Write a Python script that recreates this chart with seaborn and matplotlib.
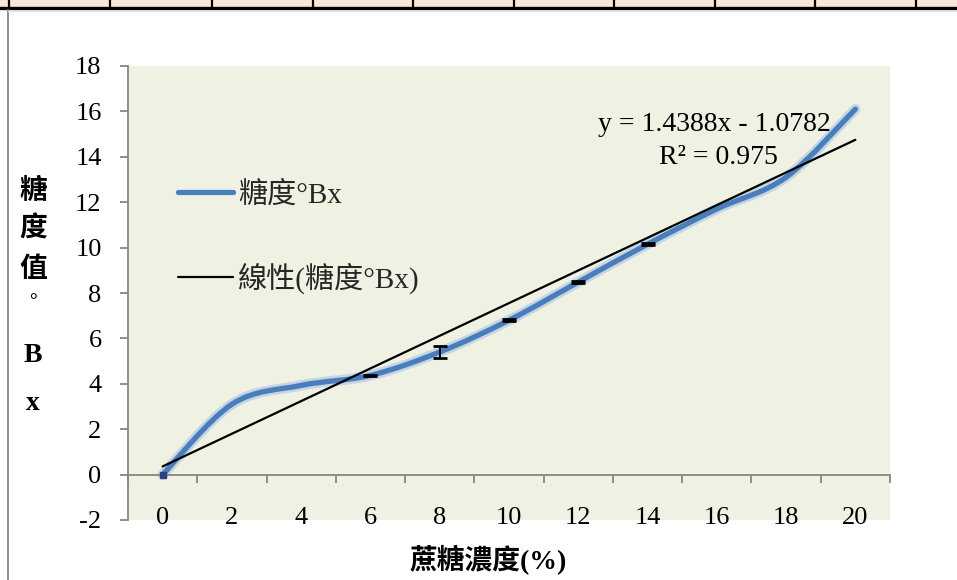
import numpy as np
import pandas as pd
import matplotlib
matplotlib.use("Agg")
import matplotlib.pyplot as plt
import seaborn as sns
from matplotlib.path import Path
from matplotlib.patches import PathPatch, Rectangle
from matplotlib.lines import Line2D

# Sucrose concentration (%) and measured Brix readings
concentration = [0, 2, 4, 6, 8, 10, 12, 14, 16, 18, 20]
brix = [0.0, 3.1, 3.93, 4.37, 5.4, 6.8, 8.48, 10.15, 11.7, 13.1, 16.1]
brix_err = [0.0, 0.0, 0.0, 0.03, 0.27, 0.04, 0.05, 0.04, 0.0, 0.0, 0.0]

# Linear trend line (x = category number 1..11)
slope = 1.4388
intercept = -1.0782
r_squared = 0.975

series_label = "糖度°Bx"
trend_label = "線性(糖度°Bx)"
x_title = "蔗糖濃度(%)"
y_title_chars = ["糖", "度", "值", "°", "B", "x"]

sns.set_theme(style="white")
plt.rcParams["font.family"] = ["Liberation Serif", "Noto Sans CJK TC", "DejaVu Sans"]
plt.rcParams["axes.unicode_minus"] = False

W, H = 957, 580
fig = plt.figure(figsize=(W / 100, H / 100), dpi=100)
fig.patch.set_facecolor("white")

def fx(px):
    return px / W

def fy(py):
    return 1 - py / H

# table row above the chart
fig.patches.append(Rectangle((0, fy(7)), 1, 7 / H, transform=fig.transFigure,
                             facecolor="#FCE6D6", edgecolor="none", zorder=0))
fig.lines.append(Line2D([0, 1], [fy(8), fy(8)], transform=fig.transFigure,
                        color="black", lw=2.4))
for xc in [9, 110, 212, 313, 413, 514, 614, 715, 815, 916]:
    fig.lines.append(Line2D([fx(xc), fx(xc)], [1, fy(8)], transform=fig.transFigure,
                            color="black", lw=1.6))
fig.lines.append(Line2D([fx(8), fx(8)], [fy(10), 0], transform=fig.transFigure,
                        color="#8C8C8C", lw=1.4))
fig.lines.append(Line2D([fx(8), 1], [fy(11), fy(11)], transform=fig.transFigure,
                        color="#E4E4E4", lw=1.0))

ax = fig.add_axes([fx(128), fy(520), (890 - 128) / W, (520 - 66) / H])
ax.set_facecolor("#EFF2E3")

idx = np.arange(len(concentration))
df = pd.DataFrame({"idx": idx, "brix": brix, "err": brix_err})

# smoothed series line (Catmull-Rom style Bezier through the points)
pts = df[["idx", "brix"]].to_numpy(dtype=float)
verts = [pts[0]]
codes = [Path.MOVETO]
for i in range(len(pts) - 1):
    p0 = pts[i - 1] if i > 0 else pts[i]
    p1 = pts[i]
    p2 = pts[i + 1]
    p3 = pts[i + 2] if i + 2 < len(pts) else pts[i + 1]
    verts += [p1 + (p2 - p0) / 6, p2 - (p3 - p1) / 6, p2]
    codes += [Path.CURVE4] * 3
curve = Path(verts, codes)
ax.add_patch(PathPatch(curve, facecolor="none", edgecolor="#B4CAE8", lw=7.5,
                       alpha=0.7, capstyle="round", zorder=2))
ax.add_patch(PathPatch(curve, facecolor="none", edgecolor="#4A7EBB", lw=3.8,
                       capstyle="round", zorder=3))

# error bars only where a spread was measured
eb = df[df["err"] > 0]
ax.errorbar(eb["idx"], eb["brix"], yerr=eb["err"], fmt="none", ecolor="black",
            elinewidth=1.4, capsize=5, capthick=2.0, zorder=4)
ax.plot([0], [0], marker="s", ms=4, color="#2F3F80", zorder=4)

# linear trend line
trend = pd.DataFrame({"idx": idx, "fit": slope * (idx + 1) + intercept})
sns.lineplot(data=trend, x="idx", y="fit", ax=ax, color="black", lw=1.6,
             zorder=5, legend=False)

ax.set_xlim(-0.5, 10.5)
ax.set_ylim(-2, 18)
ax.set_yticks(range(-2, 19, 2))
ax.set_xticks(idx)
ax.set_xticklabels([str(c) for c in concentration])
ax.set_xticks(np.arange(-0.5, 11, 1), minor=True)
ax.set_xlabel("")
ax.set_ylabel("")
ax.grid(False)

axis_color = "#868686"
for s in ["top", "right"]:
    ax.spines[s].set_visible(False)
ax.spines["left"].set_color(axis_color)
ax.spines["left"].set_linewidth(1.3)
ax.spines["bottom"].set_position(("data", 0))
ax.spines["bottom"].set_color(axis_color)
ax.spines["bottom"].set_linewidth(1.3)

ax.tick_params(axis="y", left=True, direction="out", length=6, width=1.3,
               color=axis_color, labelsize=19, pad=13, labelcolor="black")
ax.tick_params(axis="x", which="major", bottom=True, length=0, pad=23,
               labelsize=19, labelcolor="black")
ax.tick_params(axis="x", which="minor", bottom=True, direction="out", length=6,
               width=1.3, color=axis_color)

handles = [Line2D([], [], color="#4A7EBB", lw=3.8),
           Line2D([], [], color="black", lw=1.6)]
ax.legend(handles, [series_label, trend_label], loc="upper left",
          bbox_to_anchor=(fx(178), fy(181)), bbox_transform=fig.transFigure,
          frameon=False, fontsize=21, handlelength=1.9, handletextpad=0.15,
          labelspacing=1.85, borderpad=0, borderaxespad=0)

sign = "-" if intercept < 0 else "+"
fig.text(fx(714), fy(125), f"y = {slope:.4f}x {sign} {abs(intercept):.4f}",
         ha="center", va="center", fontsize=20, color="black")
fig.text(fx(718), fy(157), f"R² = {r_squared:.3f}", ha="center", va="center",
         fontsize=20, color="black")

fig.text(fx(488), fy(560), x_title, ha="center", va="center", fontsize=20,
         fontweight="bold", color="black")
for ch, py in zip(y_title_chars, [192, 230, 270, 302, 355, 403]):
    fig.text(fx(33), fy(py), ch, ha="center", va="center",
             fontsize=20 if ch != "°" else 14, fontweight="bold", color="black")

fig.savefig("out.png", dpi=100, facecolor="white")
